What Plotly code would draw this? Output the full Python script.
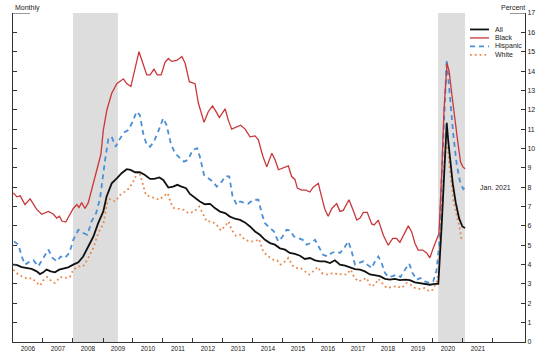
import plotly.graph_objects as go
from datetime import datetime

# ---------------- data (decimal years) ----------------
all_t = [2006.00, 2006.12, 2006.29, 2006.46, 2006.62, 2006.79, 2006.90, 2007.01, 2007.12, 2007.26,
         2007.40, 2007.54, 2007.68, 2007.84, 2008.01, 2008.18, 2008.34, 2008.51, 2008.68, 2008.84,
         2009.01, 2009.12, 2009.29, 2009.46, 2009.62, 2009.79, 2009.92, 2010.07, 2010.23, 2010.40,
         2010.57, 2010.71, 2010.88, 2011.01, 2011.18, 2011.34, 2011.48, 2011.62, 2011.77, 2011.90,
         2012.07, 2012.23, 2012.40, 2012.57, 2012.73, 2012.90, 2013.07, 2013.23, 2013.40, 2013.57,
         2013.73, 2013.90, 2014.07, 2014.23, 2014.40, 2014.57, 2014.73, 2014.90, 2015.07, 2015.23,
         2015.40, 2015.57, 2015.73, 2015.90, 2016.07, 2016.23, 2016.40, 2016.57, 2016.73, 2016.90,
         2017.07, 2017.23, 2017.40, 2017.57, 2017.73, 2017.90, 2018.07, 2018.23, 2018.40, 2018.57,
         2018.73, 2018.90, 2019.07, 2019.23, 2019.40, 2019.57, 2019.73, 2019.90, 2020.07, 2020.18,
         2020.29, 2020.37, 2020.46, 2020.51, 2020.57, 2020.66, 2020.76, 2020.87, 2020.98, 2021.07]
all_v = [4.00, 3.98, 3.87, 3.82, 3.78, 3.65, 3.51, 3.60, 3.74, 3.65,
         3.60, 3.74, 3.78, 3.86, 4.00, 4.12, 4.42, 4.94, 5.45, 6.14,
         6.75, 7.52, 8.20, 8.46, 8.72, 8.93, 8.89, 8.77, 8.77, 8.63,
         8.43, 8.43, 8.50, 8.37, 7.98, 8.03, 8.12, 8.03, 7.95, 7.65,
         7.43, 7.26, 7.12, 7.14, 6.92, 6.74, 6.66, 6.48, 6.37, 6.31,
         6.18, 5.97, 5.71, 5.54, 5.28, 5.11, 5.03, 4.84, 4.77, 4.60,
         4.55, 4.46, 4.29, 4.34, 4.22, 4.17, 4.17, 4.08, 4.22, 4.00,
         3.95, 3.86, 3.77, 3.74, 3.65, 3.49, 3.43, 3.40, 3.26, 3.22,
         3.26, 3.20, 3.22, 3.20, 3.08, 3.05, 3.02, 2.96, 3.00, 3.00,
         5.97, 8.90, 11.33, 10.40, 9.50, 8.20, 7.20, 6.40, 5.97, 5.89]

black_t = [2006.01, 2006.13, 2006.24, 2006.40, 2006.57, 2006.79, 2006.96, 2007.18, 2007.35, 2007.46,
           2007.55, 2007.63, 2007.76, 2007.88, 2008.01, 2008.13, 2008.20, 2008.29, 2008.40, 2008.51,
           2008.68, 2008.79, 2008.93, 2009.01, 2009.13, 2009.29, 2009.46, 2009.68, 2009.79, 2009.93,
           2010.07, 2010.20, 2010.33, 2010.46, 2010.57, 2010.70, 2010.81, 2010.94, 2011.07, 2011.18,
           2011.29, 2011.46, 2011.63, 2011.74, 2011.88, 2012.07, 2012.18, 2012.37, 2012.51, 2012.65,
           2012.77, 2012.88, 2013.07, 2013.18, 2013.29, 2013.46, 2013.59, 2013.74, 2013.90, 2014.07,
           2014.18, 2014.33, 2014.46, 2014.63, 2014.74, 2014.85, 2015.04, 2015.18, 2015.29, 2015.40,
           2015.48, 2015.63, 2015.77, 2015.90, 2016.01, 2016.18, 2016.29, 2016.40, 2016.51, 2016.63,
           2016.79, 2016.90, 2017.01, 2017.20, 2017.33, 2017.46, 2017.57, 2017.68, 2017.81, 2017.96,
           2018.04, 2018.18, 2018.35, 2018.51, 2018.66, 2018.79, 2018.90, 2019.05, 2019.18, 2019.29,
           2019.40, 2019.51, 2019.66, 2019.79, 2019.90, 2020.01, 2020.13, 2020.20, 2020.29, 2020.37,
           2020.47, 2020.54, 2020.63, 2020.74, 2020.84, 2020.92, 2021.00, 2021.07]
black_v = [7.70, 7.50, 7.55, 7.10, 7.40, 6.85, 6.60, 6.75, 6.60, 6.40,
           6.50, 6.25, 6.20, 6.55, 6.90, 7.10, 6.95, 7.20, 6.90, 7.20,
           8.20, 8.80, 9.70, 10.95, 12.00, 12.85, 13.35, 13.60, 13.35, 13.20,
           14.20, 15.00, 14.40, 13.80, 13.80, 14.10, 13.80, 13.80, 14.45, 14.65,
           14.50, 14.55, 14.75, 14.40, 13.45, 13.35, 12.35, 11.35, 11.90, 12.20,
           11.90, 11.60, 12.05, 11.45, 11.00, 11.10, 11.20, 11.00, 10.60, 10.65,
           10.45, 9.60, 9.05, 9.75, 9.40, 8.90, 9.00, 9.10, 8.55, 8.40,
           7.95, 7.85, 7.85, 7.75, 8.00, 8.20, 7.50, 6.85, 6.50, 6.90,
           7.15, 6.75, 6.80, 7.35, 6.85, 6.30, 6.40, 6.70, 6.70, 6.10,
           6.05, 6.30, 5.50, 5.00, 5.35, 5.35, 5.15, 5.60, 6.00, 5.70,
           5.10, 4.75, 4.75, 4.60, 4.35, 4.85, 5.35, 5.60, 8.55, 12.00,
           14.40, 14.00, 12.80, 11.30, 10.20, 9.30, 9.05, 8.95]

hisp_t = [2006.03, 2006.18, 2006.29, 2006.40, 2006.57, 2006.68, 2006.84, 2007.01, 2007.18, 2007.32,
          2007.46, 2007.59, 2007.73, 2007.88, 2008.01, 2008.18, 2008.34, 2008.48, 2008.62, 2008.77,
          2008.90, 2009.07, 2009.18, 2009.29, 2009.42, 2009.57, 2009.70, 2009.84, 2009.99, 2010.12,
          2010.23, 2010.34, 2010.46, 2010.57, 2010.70, 2010.84, 2011.01, 2011.12, 2011.26, 2011.40,
          2011.57, 2011.70, 2011.84, 2011.99, 2012.14, 2012.23, 2012.37, 2012.51, 2012.66, 2012.79,
          2012.96, 2013.10, 2013.21, 2013.32, 2013.46, 2013.57, 2013.70, 2013.84, 2014.01, 2014.18,
          2014.29, 2014.40, 2014.57, 2014.70, 2014.84, 2014.99, 2015.12, 2015.23, 2015.37, 2015.51,
          2015.66, 2015.79, 2015.92, 2016.07, 2016.21, 2016.34, 2016.49, 2016.62, 2016.77, 2016.90,
          2017.04, 2017.18, 2017.29, 2017.40, 2017.53, 2017.68, 2017.81, 2017.96, 2018.07, 2018.18,
          2018.29, 2018.40, 2018.51, 2018.66, 2018.79, 2018.92, 2019.07, 2019.21, 2019.32, 2019.46,
          2019.59, 2019.73, 2019.88, 2020.01, 2020.12, 2020.21, 2020.29, 2020.37, 2020.46, 2020.51,
          2020.57, 2020.68, 2020.79, 2020.90, 2021.01, 2021.07]
hisp_v = [5.20, 5.03, 4.42, 4.00, 4.17, 4.23, 3.91, 4.34, 4.77, 4.34,
          4.17, 4.42, 4.34, 4.60, 5.28, 5.80, 5.63, 5.54, 6.23, 6.66,
          7.40, 9.41, 10.52, 10.60, 10.09, 10.52, 10.82, 10.95, 11.38, 11.90,
          11.73, 10.78, 10.18, 10.09, 10.35, 10.87, 11.56, 11.21, 10.27, 9.75,
          9.49, 9.32, 9.41, 9.92, 10.01, 9.58, 8.63, 8.46, 8.29, 8.03,
          8.29, 8.58, 8.55, 7.52, 7.09, 7.26, 7.20, 7.14, 7.35, 7.35,
          6.66, 6.14, 5.89, 5.71, 5.20, 5.45, 5.80, 5.77, 5.45, 5.37,
          5.28, 5.03, 5.11, 5.28, 4.86, 4.51, 4.42, 4.60, 4.68, 4.60,
          4.86, 5.20, 4.68, 4.00, 4.08, 4.17, 4.00, 3.82, 4.17, 4.42,
          4.08, 3.57, 3.36, 3.40, 3.48, 3.36, 3.74, 4.05, 3.57, 3.22,
          3.31, 3.13, 3.05, 3.13, 3.70, 5.00, 8.50, 11.60, 14.60, 13.70,
          12.60, 10.70, 9.20, 8.30, 7.90, 8.00]

white_t = [2006.01, 2006.18, 2006.34, 2006.51, 2006.62, 2006.77, 2006.90, 2007.01, 2007.14, 2007.29,
           2007.40, 2007.57, 2007.73, 2007.90, 2008.01, 2008.18, 2008.34, 2008.51, 2008.68, 2008.84,
           2009.01, 2009.14, 2009.23, 2009.40, 2009.57, 2009.73, 2009.88, 2010.01, 2010.14, 2010.21,
           2010.32, 2010.43, 2010.57, 2010.73, 2010.88, 2011.01, 2011.16, 2011.26, 2011.37, 2011.54,
           2011.70, 2011.84, 2011.96, 2012.07, 2012.21, 2012.32, 2012.46, 2012.62, 2012.79, 2012.93,
           2013.07, 2013.18, 2013.29, 2013.43, 2013.57, 2013.73, 2013.90, 2014.07, 2014.20, 2014.34,
           2014.51, 2014.68, 2014.81, 2014.92, 2015.03, 2015.18, 2015.32, 2015.46, 2015.59, 2015.73,
           2015.88, 2016.01, 2016.16, 2016.29, 2016.43, 2016.57, 2016.71, 2016.84, 2016.99, 2017.12,
           2017.26, 2017.37, 2017.51, 2017.66, 2017.79, 2017.92, 2018.07, 2018.18, 2018.32, 2018.46,
           2018.62, 2018.79, 2018.96, 2019.12, 2019.26, 2019.40, 2019.57, 2019.73, 2019.88, 2019.99,
           2020.12, 2020.18, 2020.23, 2020.29, 2020.37, 2020.44, 2020.49, 2020.58, 2020.68, 2020.79,
           2020.89, 2020.96]
white_v = [3.74, 3.48, 3.36, 3.26, 3.31, 3.08, 2.91, 3.19, 3.36, 3.13,
           3.05, 3.36, 3.31, 3.36, 3.74, 3.91, 3.91, 4.34, 4.86, 5.63,
           6.10, 7.18, 7.38, 7.26, 7.60, 7.77, 7.95, 8.29, 8.72, 8.80,
           8.20, 7.60, 7.52, 7.43, 7.35, 7.52, 7.69, 7.18, 6.92, 6.88,
           6.83, 6.66, 6.70, 6.78, 7.00, 6.66, 6.23, 6.23, 6.06, 5.76,
           5.99, 6.23, 5.80, 5.49, 5.54, 5.28, 5.20, 5.20, 5.32, 4.68,
           4.42, 4.25, 4.22, 4.00, 4.10, 4.34, 3.95, 3.82, 3.82, 3.65,
           3.48, 3.65, 3.87, 3.57, 3.48, 3.52, 3.57, 3.48, 3.52, 3.48,
           3.74, 3.36, 3.13, 3.22, 3.31, 2.88, 2.96, 3.26, 3.05, 2.79,
           2.84, 2.88, 2.79, 3.05, 2.96, 2.79, 2.74, 2.79, 2.62, 2.70,
           3.05, 3.57, 5.10, 6.83, 9.06, 10.28, 10.10, 8.70, 7.35, 6.55,
           5.90, 5.24]

rec_start = ["2008-01-01", "2020-03-05"]
rec_end = ["2009-07-01", "2021-01-26"]

years = list(range(2006, 2022))
y_ticks = list(range(0, 18))

series_names = ["All", "Black", "Hispanic", "White"]
series_colors = ["#111111", "#C9373B", "#4B8FD6", "#E8874C"]
series_width = [1.8, 1.3, 1.8, 1.8]
series_dash = ["solid", "solid", "5px,4px", "1.8px,3px"]


def to_date(d):
    y = int(d)
    a = datetime(y, 1, 1)
    b = datetime(y + 1, 1, 1)
    return a + (b - a) * (d - y)


FONT = "Liberation Sans, Arial, sans-serif"
TXT = "#222222"
AX = "#333333"

fig = go.Figure()
data = [(all_t, all_v), (black_t, black_v), (hisp_t, hisp_v), (white_t, white_v)]
for i in [3, 2, 1, 0]:
    t, v = data[i]
    fig.add_trace(go.Scatter(
        x=[to_date(d) for d in t], y=v, mode="lines", name=series_names[i],
        line=dict(color=series_colors[i], width=series_width[i], dash=series_dash[i]),
        showlegend=False, hoverinfo="skip"))

W, H = 550, 363
L, R, T, B = 13, 25, 12.5, 20.5
pw, ph = W - L - R, H - T - B


def px_x(px):
    return (px - L) / pw


def px_y(py):
    return (H - B - py) / ph


shapes = []
for s, e in zip(rec_start, rec_end):
    shapes.append(dict(type="rect", xref="x", yref="paper", x0=s, x1=e, y0=0, y1=1,
                       fillcolor="#DDDDDD", line=dict(width=0), layer="below"))
shapes.append(dict(type="line", xref="paper", yref="y", x0=0, x1=px_x(30), y0=17, y1=17,
                   line=dict(color=AX, width=1)))
shapes.append(dict(type="line", xref="paper", yref="y", x0=px_x(510), x1=1, y0=17, y1=17,
                   line=dict(color=AX, width=1)))

annotations = [
    dict(text="Monthly", x=0, y=px_y(7), xref="paper", yref="paper", xanchor="left",
         yanchor="middle", showarrow=False, font=dict(size=7, color=TXT, family=FONT)),
    dict(text="Percent", x=px_x(527), y=px_y(7), xref="paper", yref="paper", xanchor="right",
         yanchor="middle", showarrow=False, font=dict(size=7, color=TXT, family=FONT)),
    dict(text="Jan. 2021", x=px_x(478), y=8, xref="paper", yref="y", xanchor="left",
         yanchor="middle", showarrow=False, font=dict(size=7, color=TXT, family=FONT)),
]

leg_rows = [29, 37.5, 46, 54.5]
for i, name in enumerate(series_names):
    py = leg_rows[i]
    shapes.append(dict(type="line", xref="paper", yref="paper", x0=px_x(470), x1=px_x(489),
                       y0=px_y(py), y1=px_y(py),
                       line=dict(color=series_colors[i], width=series_width[i], dash=series_dash[i])))
    annotations.append(dict(text=name, x=px_x(493), y=px_y(py), xref="paper", yref="paper",
                            xanchor="left", yanchor="middle", showarrow=False,
                            font=dict(size=7, color=TXT, family=FONT)))

fig.update_layout(
    width=W, height=H,
    margin=dict(l=L, r=R, t=T, b=B, pad=0, autoexpand=False),
    paper_bgcolor="white", plot_bgcolor="white",
    showlegend=False, hovermode=False,
    shapes=shapes, annotations=annotations,
    font=dict(family=FONT, size=7, color=TXT),
    xaxis=dict(
        type="date", range=[datetime(2006, 1, 1), to_date(2023.07)], automargin=False,
        showgrid=False, zeroline=False, showline=True, linecolor=AX, linewidth=1,
        tickvals=[to_date(y + 0.5) for y in years], ticktext=[str(y) for y in years],
        ticks="", tickfont=dict(size=6.5, color=TXT, family=FONT),
        minor=dict(tickvals=[datetime(y, 1, 1) for y in range(2007, 2023)],
                   ticks="inside", ticklen=4, tickcolor=AX, tickwidth=1, showgrid=False),
    ),
    yaxis=dict(
        range=[0, 17], side="right", tickvals=y_ticks, ticks="inside", ticklen=4,
        tickcolor=AX, tickwidth=1, showline=True, linecolor=AX, linewidth=1,
        mirror="ticks", showgrid=False, zeroline=False, automargin=False,
        tickfont=dict(size=7, color=TXT, family=FONT),
    ),
)

fig.write_html("out.html", config={"displayModeBar": False, "staticPlot": True},
               post_script="document.body.style.margin='0px';document.body.style.overflow='hidden';")
